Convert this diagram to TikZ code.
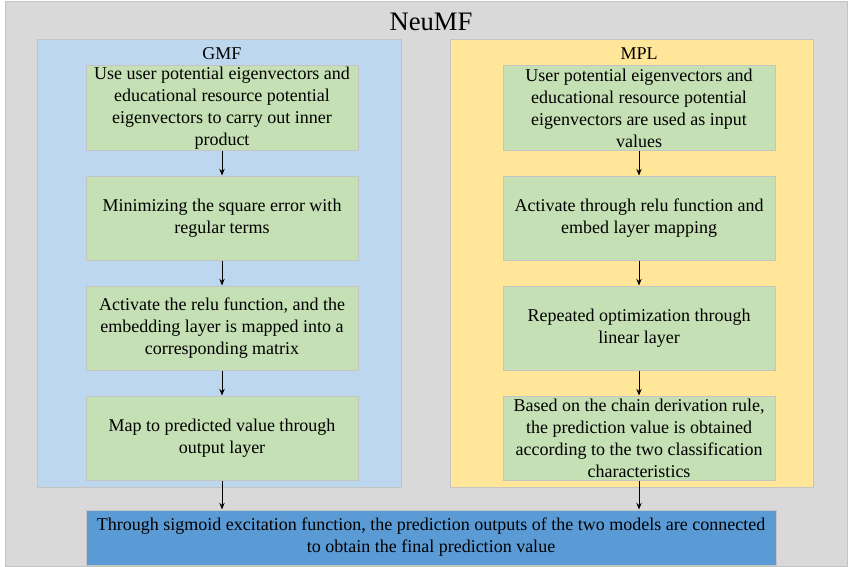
\documentclass[tikz,border=0pt]{standalone}
\usepackage{fontspec}
\setmainfont{Liberation Serif}
\usetikzlibrary{arrows.meta}

\definecolor{outergray}{HTML}{D9D9D9}
\definecolor{gmfblue}{HTML}{BDD7EE}
\definecolor{mplyellow}{HTML}{FFE699}
\definecolor{stepgreen}{HTML}{C5E0B4}
\definecolor{outblue}{HTML}{5B9BD5}
\definecolor{edgegray}{HTML}{C4C4C4}

\tikzset{stepbox/.style={draw=edgegray,line width=0.75pt,fill=stepgreen,minimum width=204pt,minimum height=63pt,inner sep=0pt,align=center,font=\fontsize{13.5}{16.5}\selectfont},
         flow/.style={-{Stealth[length=5pt,width=4pt]},line width=0.75pt}}

\begin{document}
\begin{tikzpicture}[x=0.75pt,y=-0.75pt]
        \useasboundingbox (0,0) rectangle (849,567);
        \draw[fill=outergray,draw=edgegray,line width=0.75pt] (5,2) rectangle (847,566);
        \draw[fill=gmfblue,draw=edgegray,line width=0.75pt] (37,40) rectangle (401,487);
        \draw[fill=mplyellow,draw=edgegray,line width=0.75pt] (450,40) rectangle (813,487);
        \node[font=\fontsize{20}{24}\selectfont] (title) at (431,22) {NeuMF};
        \node[font=\fontsize{13.5}{16.5}\selectfont] (gmf) at (222,54) {GMF};
        \node[font=\fontsize{13.5}{16.5}\selectfont] (mpl) at (639,54) {MPL};
        % GMF column
        \node[stepbox] (g1) at (222,108) {Use user potential eigenvectors and\\educational resource potential\\eigenvectors to carry out inner\\product};
        \node[stepbox] (g2) at (222,218) {Minimizing the square error with\\regular terms};
        \node[stepbox] (g3) at (222,328) {Activate the relu function, and the\\embedding layer is mapped into a\\corresponding matrix};
        \node[stepbox] (g4) at (222,438) {Map to predicted value through\\output layer};
        % MPL column
        \node[stepbox] (m1) at (639,108) {User potential eigenvectors and\\educational resource potential\\eigenvectors are used as input\\values};
        \node[stepbox] (m2) at (639,218) {Activate through relu function and\\embed layer mapping};
        \node[stepbox] (m3) at (639,328) {Repeated optimization through\\linear layer};
        \node[stepbox] (m4) at (639,438) {Based on the chain derivation rule,\\the prediction value is obtained\\according to the two classification\\characteristics};
        \node[draw=edgegray,line width=0.75pt,fill=outblue,minimum width=517.5pt,minimum height=41.25pt,inner sep=0pt,align=center,font=\fontsize{13.5}{16.5}\selectfont] (out) at (431,537.5) {Through sigmoid excitation function, the prediction outputs of the two models are connected\\to obtain the final prediction value};
        \draw[flow] (g1) -- (g2);
        \draw[flow] (g2) -- (g3);
        \draw[flow] (g3) -- (g4);
        \draw[flow] (m1) -- (m2);
        \draw[flow] (m2) -- (m3);
        \draw[flow] (m3) -- (m4);
        \draw[flow] (g4.south) -- (g4.south |- out.north);
        \draw[flow] (m4.south) -- (m4.south |- out.north);
    \end{tikzpicture}
\end{document}
